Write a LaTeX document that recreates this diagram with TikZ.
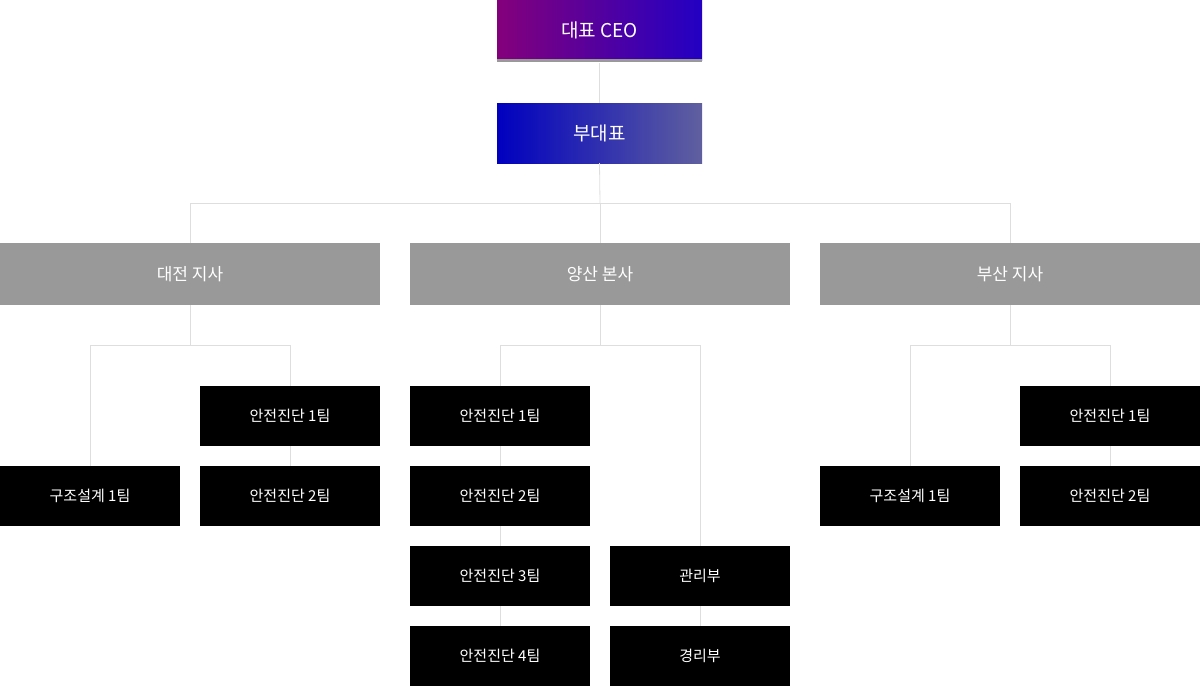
\documentclass[tikz,border=0pt]{standalone}
\usepackage{fontspec}
\setmainfont{Noto Sans CJK KR}
\begin{document}
\begin{tikzpicture}[x=1pt,y=-1pt,
  box/.style={anchor=north west,inner sep=0pt,outer sep=0pt,text=white,align=center},
  blk/.style={box,fill=black,minimum width=180pt,minimum height=60pt,font=\fontsize{15}{18}\selectfont},
  gry/.style={box,fill=black!40,minimum width=380pt,minimum height=62pt,font=\fontsize{17}{20}\selectfont},
  ln/.style={draw=black!13,line width=0.8pt}]
\useasboundingbox (0,0) rectangle (1200,686);
\node[box,left color=purple!30!violet!90!blue,right color=blue!70!violet!90!black,minimum width=205pt,minimum height=60pt,font=\fontsize{19}{22}\selectfont] (ceo) at (497,0) {대표 CEO};
\draw[black!40,line width=3pt] (497,60.5) -- (702,60.5);
\node[box,left color=blue!75!black,right color=blue!25!gray,minimum width=205pt,minimum height=60pt,font=\fontsize{19}{22}\selectfont] (vp) at (497,103) {부대표};
\node[gry] (dj) at (0,243) {대전 지사};
\node[gry] (ys) at (410,243) {양산 본사};
\node[gry] (bs) at (820,243) {부산 지사};
\node[blk] (l1) at (200,386) {안전진단 1팀};
\node[blk] (l0) at (0,466) {구조설계 1팀};
\node[blk] (l2) at (200,466) {안전진단 2팀};
\node[blk] (c1) at (410,386) {안전진단 1팀};
\node[blk] (c2) at (410,466) {안전진단 2팀};
\node[blk] (c3) at (410,546) {안전진단 3팀};
\node[blk] (c4) at (410,626) {안전진단 4팀};
\node[blk] (m1) at (610,546) {관리부};
\node[blk] (m2) at (610,626) {경리부};
\node[blk] (r0) at (820,466) {구조설계 1팀};
\node[blk] (r1) at (1020,386) {안전진단 1팀};
\node[blk] (r2) at (1020,466) {안전진단 2팀};
\coordinate (h) at (600,203);
\draw[ln] (ceo.south) ++(0,3) -- (vp.north);
\draw[ln] (vp.south) -- (h);
\draw[ln] (dj.north) -- (190,203) -- (1010,203) -- (bs.north);
\draw[ln] (h) -- (ys.north);
\draw[ln] (dj.south) -- (190,345);
\draw[ln] (l0.north) -- (90,345) -- (290,345) -- (l1.north);
\draw[ln] (l1.south) -- (l2.north);
\draw[ln] (ys.south) -- (600,345);
\draw[ln] (c1.north) -- (500,345) -- (700,345) -- (m1.north);
\draw[ln] (c1.south) -- (c2.north);
\draw[ln] (c2.south) -- (c3.north);
\draw[ln] (c3.south) -- (c4.north);
\draw[ln] (m1.south) -- (m2.north);
\draw[ln] (bs.south) -- (1010,345);
\draw[ln] (r0.north) -- (910,345) -- (1110,345) -- (r1.north);
\draw[ln] (r1.south) -- (r2.north);
\end{tikzpicture}
\end{document}
